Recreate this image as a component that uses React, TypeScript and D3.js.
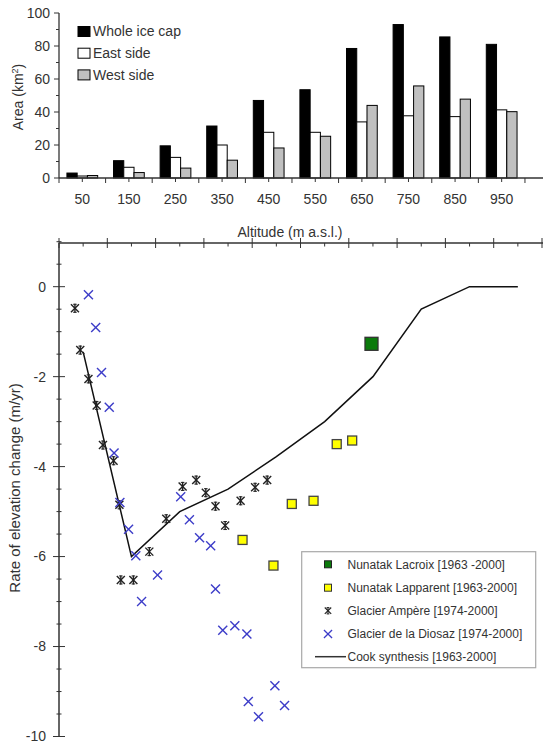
import React from "react";
import * as d3 from "d3";

// ---------- Top chart data ----------
const altitudes = [50, 150, 250, 350, 450, 550, 650, 750, 850, 950];
const wholeIceCap = [3, 10.5, 19.5, 31.5, 47, 53.5, 78.5, 93, 85.5, 81];
const eastSide = [1.2, 6.5, 12.5, 20, 27.7, 27.7, 34, 37.7, 37.2, 41.3];
const westSide = [1.5, 3.3, 6, 10.8, 18.2, 25.3, 44, 55.8, 47.8, 40.2];
const areaTicks = [0, 20, 40, 60, 80, 100];

// ---------- Bottom chart data ----------
const lacroixAlt = [647];
const lacroixRate = [-1.27];
const lapparentAlt = [575, 607, 482, 527, 380, 444];
const lapparentRate = [-3.5, -3.42, -4.83, -4.76, -5.63, -6.2];
const ampereAlt = [33, 44, 61, 78, 91, 113, 125, 128, 154, 187, 222, 256, 284, 304, 324, 344, 376, 406, 431];
const ampereRate = [-0.48, -1.41, -2.05, -2.64, -3.52, -3.87, -4.85, -6.52, -6.52, -5.89, -5.16, -4.44, -4.3, -4.58, -4.88, -5.31, -4.76, -4.46, -4.3];
const diosazAlt = [61, 76, 88, 104, 114, 126, 144, 159, 171, 204, 252, 270, 291, 314, 324, 339, 364, 389, 392, 413, 447, 467];
const diosazRate = [-0.18, -0.91, -1.91, -2.68, -3.7, -4.8, -5.39, -5.98, -7.0, -6.41, -4.67, -5.18, -5.58, -5.76, -6.72, -7.64, -7.54, -7.72, -9.22, -9.56, -8.87, -9.31];
const cookAlt = [50, 150, 250, 350, 450, 550, 650, 750, 850, 950];
const cookRate = [-1.45, -6.0, -5.0, -4.5, -3.78, -3.0, -2.0, -0.5, 0, 0];
const rateLabels = [0, -2, -4, -6, -8, -10];

const legendTop = [
  { label: "Whole ice cap", fill: "#000000" },
  { label: "East side", fill: "#ffffff" },
  { label: "West side", fill: "#c0c0c0" },
];
const legendBottom = [
  "Nunatak Lacroix [1963 -2000]",
  "Nunatak Lapparent [1963-2000]",
  "Glacier Ampère [1974-2000]",
  "Glacier de la Diosaz [1974-2000]",
  "Cook synthesis [1963-2000]",
];

const FONT = "Liberation Sans, Arial, sans-serif";
const TXT = "#333333";
const BLUE = "#3c3cc8";

function AmpereMark({ x, y }: { x: number; y: number }) {
  const s = 4;
  return (
    <g stroke="#222" strokeWidth={1.4}>
      <line x1={x - s} y1={y - s} x2={x + s} y2={y + s} />
      <line x1={x - s} y1={y + s} x2={x + s} y2={y - s} />
      <line x1={x} y1={y - s - 0.5} x2={x} y2={y + s + 0.5} />
      <line x1={x - 1.8} y1={y - s} x2={x + 1.8} y2={y - s} strokeWidth={1} />
      <line x1={x - 1.8} y1={y + s} x2={x + 1.8} y2={y + s} strokeWidth={1} />
    </g>
  );
}

function DiosazMark({ x, y }: { x: number; y: number }) {
  const s = 4.5;
  return (
    <g stroke={BLUE} strokeWidth={1.4}>
      <line x1={x - s} y1={y - s} x2={x + s} y2={y + s} />
      <line x1={x - s} y1={y + s} x2={x + s} y2={y - s} />
    </g>
  );
}

export default function App() {
  // Top chart scales
  const xT = d3.scaleLinear().domain([0, 1040]).range([59, 543.6]);
  const yT = d3.scaleLinear().domain([0, 100]).range([178, 13]);
  const barW = xT(22) - xT(0);
  const xTicksTop = d3.range(0, 1050, 50);
  const yMinorTop = d3.range(0, 101, 10);

  // Bottom chart scales
  const xB = d3.scaleLinear().domain([0, 1000]).range([59, 542]);
  const yB = d3.scaleLinear().domain([-10, 1]).range([736.5, 241.7]);
  const xTicksBot = d3.range(0, 1001, 50);
  const yTicksBot = d3.range(-10, 1.01, 0.5);

  const cookLine = d3
    .line<number>()
    .x((_, i) => xB(cookAlt[i]))
    .y((d) => yB(d))(cookRate) as string;

  const series = [
    { vals: wholeIceCap, off: -33, fill: "#000000" },
    { vals: eastSide, off: -11, fill: "#ffffff" },
    { vals: westSide, off: 11, fill: "#c0c0c0" },
  ];

  const legY = [564.3, 587.7, 610.7, 634, 656.7];
  const symX = 328;

  return (
    <svg
      width={543}
      height={747}
      style={{ position: "absolute", left: 0, top: 0, background: "#fff" }}
      fontFamily={FONT}
    >
      <rect x={0} y={0} width={543} height={747} fill="#fff" />
      {/* ---------- TOP CHART ---------- */}
      {series.map((s, si) =>
        s.vals.map((v, i) => (
          <rect
            key={`b${si}-${i}`}
            x={xT(altitudes[i] + s.off)}
            y={yT(v)}
            width={barW}
            height={yT(0) - yT(v)}
            fill={s.fill}
            stroke="#000"
            strokeWidth={1}
          />
        ))
      )}
      {/* axes */}
      <line x1={59} y1={yT(0)} x2={543} y2={yT(0)} stroke="#333" strokeWidth={1.3} />
      <line x1={59} y1={yT(100)} x2={59} y2={yT(0)} stroke="#333" strokeWidth={1.3} />
      {yMinorTop.map((t) => (
        <line
          key={`ytm${t}`}
          x1={t % 20 === 0 ? 54 : 56}
          x2={59}
          y1={yT(t)}
          y2={yT(t)}
          stroke="#333"
          strokeWidth={1}
        />
      ))}
      {areaTicks.map((t) => (
        <text key={`yt${t}`} x={50} y={yT(t)} dy="0.35em" textAnchor="end" fontSize={14} fill={TXT}>
          {t}
        </text>
      ))}
      {xTicksTop.map((t) => (
        <line
          key={`xt${t}`}
          x1={xT(t)}
          x2={xT(t)}
          y1={yT(0)}
          y2={yT(0) + (t % 100 === 0 ? 5 : 4)}
          stroke="#333"
          strokeWidth={1}
        />
      ))}
      {altitudes.map((a) => (
        <text key={`xl${a}`} x={xT(a)} y={199} dy="0.35em" textAnchor="middle" fontSize={14} fill={TXT}>
          {a}
        </text>
      ))}
      <text x={290} y={232} dy="0.35em" textAnchor="middle" fontSize={14} fill={TXT}>
        Altitude (m a.s.l.)
      </text>
      <text
        transform={`translate(18,97) rotate(-90)`}
        textAnchor="middle"
        dy="0.35em"
        fontSize={14}
        fill={TXT}
      >
        Area (km<tspan dy="-5" fontSize={9}>2</tspan>
        <tspan dy="5">)</tspan>
      </text>
      {legendTop.map((l, i) => (
        <g key={`lt${i}`}>
          <rect x={78} y={26.5 + i * 21.7} width={12} height={10} fill={l.fill} stroke="#000" strokeWidth={1} />
          <text x={93} y={31.5 + i * 21.7} dy="0.35em" fontSize={14} fill={TXT}>
            {l.label}
          </text>
        </g>
      ))}

      {/* ---------- BOTTOM CHART ---------- */}
      <line x1={59} y1={243} x2={543} y2={243} stroke="#333" strokeWidth={1.3} />
      {xTicksBot.map((t) => (
        <line
          key={`bxt${t}`}
          x1={xB(t)}
          x2={xB(t)}
          y1={t % 100 === 0 ? 238 : 243}
          y2={t % 100 === 0 ? 248 : 246.5}
          stroke="#333"
          strokeWidth={1}
        />
      ))}
      <line x1={59} y1={243} x2={59} y2={yB(-10)} stroke="#333" strokeWidth={1.5} />
      {yTicksBot.map((t) => {
        const major = Math.abs(t % 2) < 1e-6;
        return (
          <line
            key={`byt${t}`}
            x1={major ? 53 : 56.5}
            x2={major ? 65 : 61.5}
            y1={yB(t)}
            y2={yB(t)}
            stroke="#333"
            strokeWidth={1}
          />
        );
      })}
      {rateLabels.map((t) => (
        <text key={`byl${t}`} x={46} y={yB(t)} dy="0.35em" textAnchor="end" fontSize={14} fill={TXT}>
          {t}
        </text>
      ))}
      <text
        transform={`translate(15,488) rotate(-90)`}
        textAnchor="middle"
        dy="0.35em"
        fontSize={15}
        fill={TXT}
      >
        Rate of elevation change (m/yr)
      </text>

      <path d={cookLine} fill="none" stroke="#111" strokeWidth={1.5} />

      {ampereAlt.map((a, i) => (
        <AmpereMark key={`am${i}`} x={xB(a)} y={yB(ampereRate[i])} />
      ))}
      {diosazAlt.map((a, i) => (
        <DiosazMark key={`di${i}`} x={xB(a)} y={yB(diosazRate[i])} />
      ))}
      {lapparentAlt.map((a, i) => (
        <rect
          key={`la${i}`}
          x={xB(a) - 4.5}
          y={yB(lapparentRate[i]) - 4.5}
          width={9}
          height={9}
          fill="#ffff00"
          stroke="#444"
          strokeWidth={1.3}
        />
      ))}
      {lacroixAlt.map((a, i) => (
        <rect
          key={`lc${i}`}
          x={xB(a) - 6.5}
          y={yB(lacroixRate[i]) - 6.5}
          width={13}
          height={13}
          fill="#0b7a0b"
          stroke="#333"
          strokeWidth={1.3}
        />
      ))}

      {/* legend */}
      <rect x={301.7} y={551.7} width={234} height={116} fill="#fff" stroke="#a8a8a8" strokeWidth={1.2} />
      <rect x={symX - 3.5} y={legY[0] - 3.5} width={7} height={7} fill="#0b7a0b" stroke="#222" strokeWidth={1} />
      <rect x={symX - 3.5} y={legY[1] - 3.5} width={7} height={7} fill="#ffff00" stroke="#333" strokeWidth={1} />
      <g transform={`translate(${symX},${legY[2]}) scale(0.8) translate(${-symX},${-legY[2]})`}>
        <AmpereMark x={symX} y={legY[2]} />
      </g>
      <g transform={`translate(${symX},${legY[3]}) scale(0.9) translate(${-symX},${-legY[3]})`}>
        <DiosazMark x={symX} y={legY[3]} />
      </g>
      <line x1={315} x2={346} y1={legY[4]} y2={legY[4]} stroke="#333" strokeWidth={1.5} />
      {legendBottom.map((l, i) => (
        <text key={`lb${i}`} x={347.5} y={legY[i]} dy="0.35em" fontSize={12} fill={TXT}>
          {l}
        </text>
      ))}
    </svg>
  );
}
